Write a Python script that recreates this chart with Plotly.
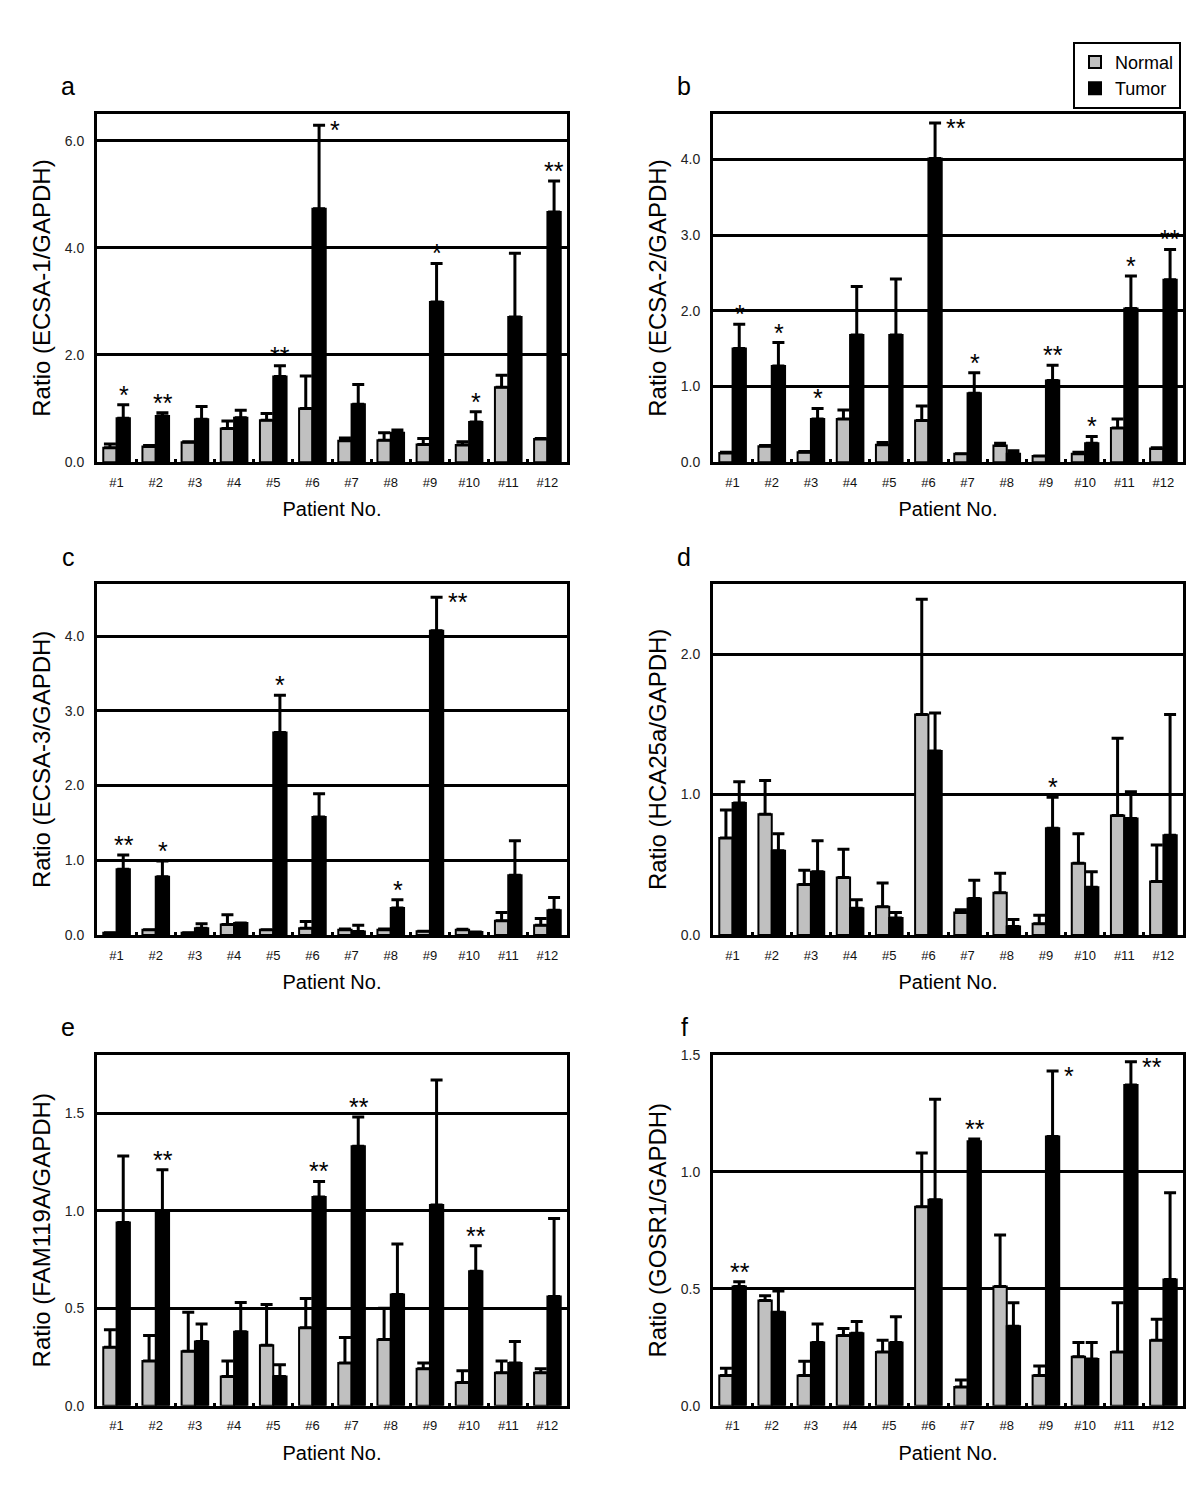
import plotly.graph_objects as go

patients = [f"#{i}" for i in range(1, 13)]

# ---- Panel a: ECSA-1 ----
a_normal = [0.27, 0.29, 0.37, 0.63, 0.78, 1.00, 0.40, 0.41, 0.33, 0.32, 1.40, 0.43]
a_normal_err = [0.07, 0.02, 0.01, 0.14, 0.13, 0.61, 0.05, 0.14, 0.11, 0.06, 0.22, 0.01]
a_tumor = [0.82, 0.86, 0.80, 0.83, 1.60, 4.73, 1.08, 0.55, 2.99, 0.75, 2.71, 4.67]
a_tumor_err = [0.25, 0.06, 0.24, 0.14, 0.20, 1.56, 0.37, 0.05, 0.72, 0.19, 1.19, 0.58]
a_sig = ["*", "**", "", "", "**", "*", "", "", "*", "*", "", "**"]
a_side = ["", "", "", "", "", "r", "", "", "", "", "", ""]

# ---- Panel b: ECSA-2 ----
b_normal = [0.12, 0.21, 0.13, 0.57, 0.23, 0.55, 0.11, 0.22, 0.08, 0.11, 0.45, 0.18]
b_normal_err = [0.01, 0.01, 0.01, 0.12, 0.03, 0.19, 0.0, 0.03, 0.0, 0.02, 0.12, 0.01]
b_tumor = [1.50, 1.27, 0.57, 1.68, 1.68, 4.01, 0.91, 0.11, 1.08, 0.25, 2.03, 2.41]
b_tumor_err = [0.32, 0.31, 0.14, 0.64, 0.74, 0.47, 0.27, 0.04, 0.20, 0.09, 0.43, 0.40]
b_sig = ["*", "*", "*", "", "", "**", "*", "", "**", "*", "*", "**"]
b_side = ["", "", "", "", "", "r", "", "", "", "", "", ""]

# ---- Panel c: ECSA-3 ----
c_normal = [0.03, 0.07, 0.03, 0.14, 0.07, 0.09, 0.07, 0.07, 0.05, 0.07, 0.19, 0.13]
c_normal_err = [0.0, 0.0, 0.0, 0.13, 0.0, 0.09, 0.01, 0.01, 0.0, 0.005, 0.11, 0.09]
c_tumor = [0.88, 0.78, 0.09, 0.16, 2.71, 1.58, 0.045, 0.36, 4.07, 0.04, 0.80, 0.33]
c_tumor_err = [0.19, 0.21, 0.06, 0.0, 0.50, 0.31, 0.085, 0.11, 0.45, 0.0, 0.46, 0.17]
c_sig = ["**", "*", "", "", "*", "", "", "*", "**", "", "", ""]
c_side = ["", "", "", "", "", "", "", "", "r", "", "", ""]

# ---- Panel d: HCA25a ----
d_normal = [0.69, 0.86, 0.36, 0.41, 0.20, 1.57, 0.16, 0.30, 0.08, 0.51, 0.85, 0.38]
d_normal_err = [0.20, 0.24, 0.10, 0.20, 0.17, 0.82, 0.02, 0.14, 0.06, 0.21, 0.55, 0.26]
d_tumor = [0.94, 0.60, 0.45, 0.19, 0.12, 1.31, 0.26, 0.06, 0.76, 0.34, 0.83, 0.71]
d_tumor_err = [0.15, 0.12, 0.22, 0.06, 0.04, 0.27, 0.13, 0.05, 0.22, 0.11, 0.19, 0.86]
d_sig = ["", "", "", "", "", "", "", "", "*", "", "", ""]
d_side = [""] * 12

# ---- Panel e: FAM119A ----
e_normal = [0.30, 0.23, 0.28, 0.15, 0.31, 0.40, 0.22, 0.34, 0.19, 0.12, 0.17, 0.17]
e_normal_err = [0.09, 0.13, 0.20, 0.08, 0.21, 0.15, 0.13, 0.16, 0.03, 0.06, 0.06, 0.02]
e_tumor = [0.94, 1.00, 0.33, 0.38, 0.15, 1.07, 1.33, 0.57, 1.03, 0.69, 0.22, 0.56]
e_tumor_err = [0.34, 0.21, 0.09, 0.15, 0.06, 0.08, 0.15, 0.26, 0.64, 0.13, 0.11, 0.40]
e_sig = ["", "**", "", "", "", "**", "**", "", "", "**", "", ""]
e_side = [""] * 12

# ---- Panel f: GOSR1 ----
f_normal = [0.13, 0.45, 0.13, 0.30, 0.23, 0.85, 0.08, 0.51, 0.13, 0.21, 0.23, 0.28]
f_normal_err = [0.03, 0.02, 0.06, 0.03, 0.05, 0.23, 0.03, 0.22, 0.04, 0.06, 0.21, 0.09]
f_tumor = [0.51, 0.40, 0.27, 0.31, 0.27, 0.88, 1.13, 0.34, 1.15, 0.20, 1.37, 0.54]
f_tumor_err = [0.02, 0.09, 0.08, 0.05, 0.11, 0.43, 0.01, 0.10, 0.28, 0.07, 0.10, 0.37]
f_sig = ["**", "", "", "", "", "", "**", "", "*", "", "**", ""]
f_side = ["", "", "", "", "", "", "", "", "r", "", "r", ""]

panels = [
    dict(letter="a", ytitle="Ratio (ECSA-1/GAPDH)", n=a_normal, ne=a_normal_err, t=a_tumor, te=a_tumor_err,
         sig=a_sig, side=a_side, yr=6.5, dt=2.0),
    dict(letter="b", ytitle="Ratio (ECSA-2/GAPDH)", n=b_normal, ne=b_normal_err, t=b_tumor, te=b_tumor_err,
         sig=b_sig, side=b_side, yr=4.6, dt=1.0),
    dict(letter="c", ytitle="Ratio (ECSA-3/GAPDH)", n=c_normal, ne=c_normal_err, t=c_tumor, te=c_tumor_err,
         sig=c_sig, side=c_side, yr=4.7, dt=1.0),
    dict(letter="d", ytitle="Ratio (HCA25a/GAPDH)", n=d_normal, ne=d_normal_err, t=d_tumor, te=d_tumor_err,
         sig=d_sig, side=d_side, yr=2.5, dt=1.0),
    dict(letter="e", ytitle="Ratio (FAM119A/GAPDH)", n=e_normal, ne=e_normal_err, t=e_tumor, te=e_tumor_err,
         sig=e_sig, side=e_side, yr=1.8, dt=0.5),
    dict(letter="f", ytitle="Ratio (GOSR1/GAPDH)", n=f_normal, ne=f_normal_err, t=f_tumor, te=f_tumor_err,
         sig=f_sig, side=f_side, yr=1.5, dt=0.5),
]

OFF = 8  # default page body margin
W, H = 1200 - 2 * OFF, 1498 - 2 * OFF   # page fits the window exactly
xdoms = [(97, 567), (713, 1183)]
ydoms = [(107, 459), (582, 937), (1058, 1413)]
letter_pos = [(68, 79), (684, 79), (68, 555), (684, 555), (68, 1030), (684, 1030)]


def px(x):
    return (x - OFF) / W


def py(y):
    return 1 - (y - OFF) / H


FONT = "Arial, Liberation Sans, Helvetica, sans-serif"
fig = go.Figure()
layout = dict(
    width=W, height=H, margin=dict(l=0, r=0, t=0, b=0), autosize=False,
    paper_bgcolor="white", plot_bgcolor="white",
    barmode="group", bargap=0.32, bargroupgap=0.0,
    font=dict(family=FONT, color="black"),
    showlegend=True,
    legend=dict(x=px(1181), y=py(34), xanchor="right", yanchor="top",
                bordercolor="black", borderwidth=2, bgcolor="white",
                font=dict(size=18, family=FONT), itemwidth=30, tracegroupgap=0),
)
annotations = []

for k, p in enumerate(panels):
    idx = k + 1
    col = k % 2
    row = k // 2
    xa = "x" if idx == 1 else f"x{idx}"
    ya = "y" if idx == 1 else f"y{idx}"
    x0, x1 = xdoms[col]
    y0, y1 = ydoms[row]
    err_kw = dict(type="data", symmetric=False, color="black", thickness=3, width=6)
    fig.add_trace(go.Bar(
        x=patients, y=p["n"], name="Normal", xaxis=xa, yaxis=ya,
        marker=dict(color="#c0c0c0", line=dict(color="black", width=2)),
        error_y=dict(array=p["ne"], arrayminus=[0] * 12, **err_kw),
        showlegend=(k == 0), legendgroup="n"))
    fig.add_trace(go.Bar(
        x=patients, y=p["t"], name="Tumor", xaxis=xa, yaxis=ya,
        marker=dict(color="black", line=dict(color="black", width=2)),
        error_y=dict(array=p["te"], arrayminus=[0] * 12, **err_kw),
        showlegend=(k == 0), legendgroup="t"))

    xkey = "xaxis" if idx == 1 else f"xaxis{idx}"
    ykey = "yaxis" if idx == 1 else f"yaxis{idx}"
    layout[xkey] = dict(
        domain=[px(x0), px(x1)], anchor=ya, type="category",
        showline=True, linecolor="black", linewidth=3, mirror=True,
        ticks="inside", tickson="boundaries", ticklen=3, tickwidth=3, tickcolor="black",
        ticklabelstandoff=6,
        tickfont=dict(size=13, family=FONT, color="#111"),
        title=dict(text="Patient No.", font=dict(size=20, family=FONT), standoff=14),
        showgrid=False, fixedrange=True)
    tv = []
    v = 0.0
    while v <= p["yr"] + 1e-9:
        tv.append(round(v, 3))
        v += p["dt"]
    layout[ykey] = dict(
        domain=[py(y1), py(y0)], anchor=xa, range=[0, p["yr"]],
        tickvals=tv, tickformat=".1f",
        showline=True, linecolor="black", linewidth=3, mirror=True,
        showgrid=True, gridcolor="black", gridwidth=2.5, zeroline=False,
        ticks="", ticklabelstandoff=7, tickfont=dict(size=14, family=FONT, color="#222"),
        title=dict(text=p["ytitle"], font=dict(size=24, family=FONT), standoff=8),
        fixedrange=True)

    lx, ly = letter_pos[k]
    annotations.append(dict(text=p["letter"], x=px(lx), y=py(ly), xref="paper", yref="paper",
                            showarrow=False, font=dict(size=25, family=FONT),
                            xanchor="center", yanchor="middle"))
    for i, s in enumerate(p["sig"]):
        if not s:
            continue
        top = p["t"][i] + p["te"][i]
        if p["side"][i] == "r":
            annotations.append(dict(text=s, x=patients[i], y=top, xref=xa, yref=ya, showarrow=False,
                                    xshift=16, yshift=-5, xanchor="left", yanchor="middle",
                                    font=dict(size=25, family=FONT)))
        else:
            annotations.append(dict(text=s, x=patients[i], y=top, xref=xa, yref=ya, showarrow=False,
                                    xshift=7, yshift=-6, xanchor="center", yanchor="bottom",
                                    font=dict(size=25, family=FONT)))

layout["annotations"] = annotations
fig.update_layout(**layout)
fig.write_html("out.html")
